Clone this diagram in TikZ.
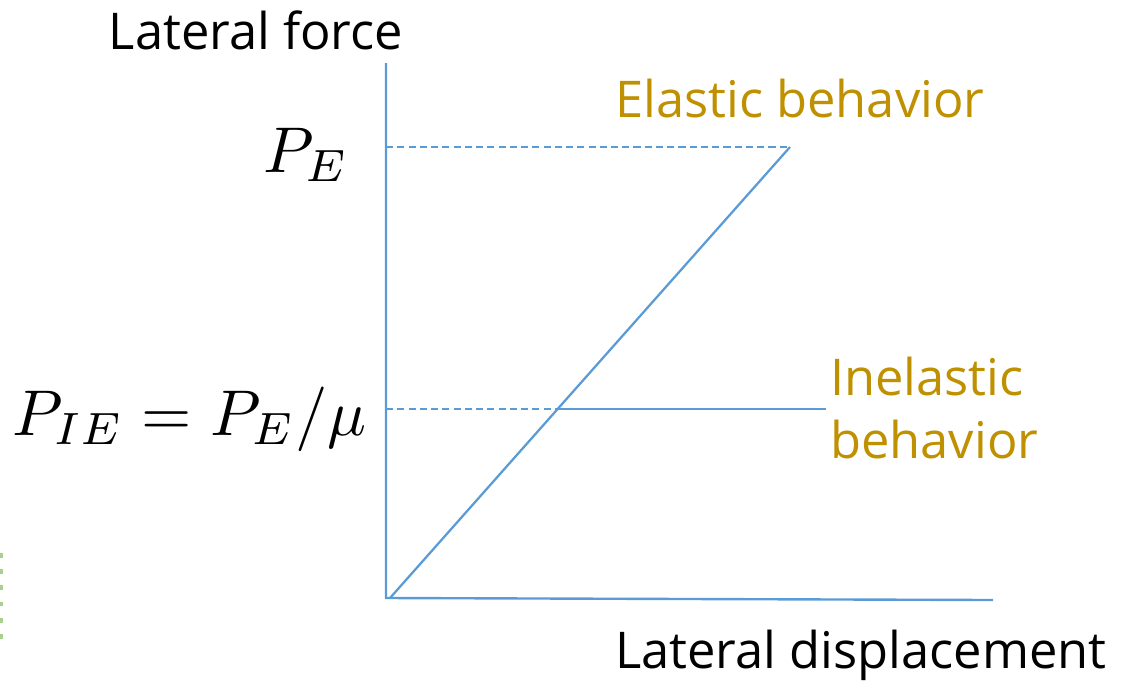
\documentclass[tikz,border=0pt]{standalone}
\usepackage{fontspec}
\setsansfont{Open Sans}
\usepackage{tikz}
\usetikzlibrary{positioning}
\definecolor{curveblue}{RGB}{91,155,213}
\definecolor{labelgold}{RGB}{191,144,0}
\definecolor{guidegreen}{RGB}{169,209,142}
\tikzset{
  axis/.style     = {draw=curveblue, line width=1.7pt},
  curve/.style    = {draw=curveblue, line width=1.6pt},
  guide/.style    = {draw=curveblue, line width=1.1pt, dash pattern=on 5pt off 3pt},
  marker/.style   = {draw=guidegreen, line width=1.5pt, dash pattern=on 3.5pt off 8pt},
  axlabel/.style  = {font=\sffamily\fontsize{36}{44.8}\selectfont, inner sep=0pt},
  behlabel/.style = {axlabel, text=labelgold, align=left},
  mathlabel/.style= {font=\fontsize{10}{12}\selectfont, scale=4.6, inner sep=0pt},
}

\begin{document}
\begin{tikzpicture}[x=0.025cm, y=-0.025cm]
  \useasboundingbox (0,0) rectangle (1137,693);

  % axes and key points
  \coordinate (O)       at (386,598);
  \coordinate (ytop)    at (386,63);
  \coordinate (xend)    at (993,600);
  \coordinate (diagbot) at (390,598);
  \coordinate (elastic) at (790,147);
  \coordinate (yield)   at (557,409);
  \coordinate (inelend) at (826,409);
  \coordinate (PEaxis)  at (386,147);
  \coordinate (PIEaxis) at (386,409);
  \coordinate (gtop)    at (1.5,553);
  \coordinate (gbot)    at (1.5,640);

  \draw[axis] (ytop) -- (O) -- (xend);
  \draw[curve] (diagbot) -- (elastic);
  \draw[curve] (yield) -- (inelend);
  \draw[guide] (PEaxis) -- (elastic);
  \draw[guide] (PIEaxis) -- (yield);
  \draw[marker] (gtop) -- (gbot);

  \node[axlabel, anchor=base] (fylab) at (256,49) {Lateral force};
  \node[axlabel, anchor=base west] (fxlab) at (615,668) {Lateral displacement};
  \node[behlabel, anchor=base west] (ellab) at (615,117) {Elastic behavior};
  \node[behlabel, anchor=base west] (inlab) at (830,458) {Inelastic\\behavior};
  \node[mathlabel, anchor=base east] (pelab) at (350,172) {$P_E$};
  \node[mathlabel, anchor=base east] (pielab) at (368,435) {$P_{IE} = P_E/\mu$};
\end{tikzpicture}
\end{document}
